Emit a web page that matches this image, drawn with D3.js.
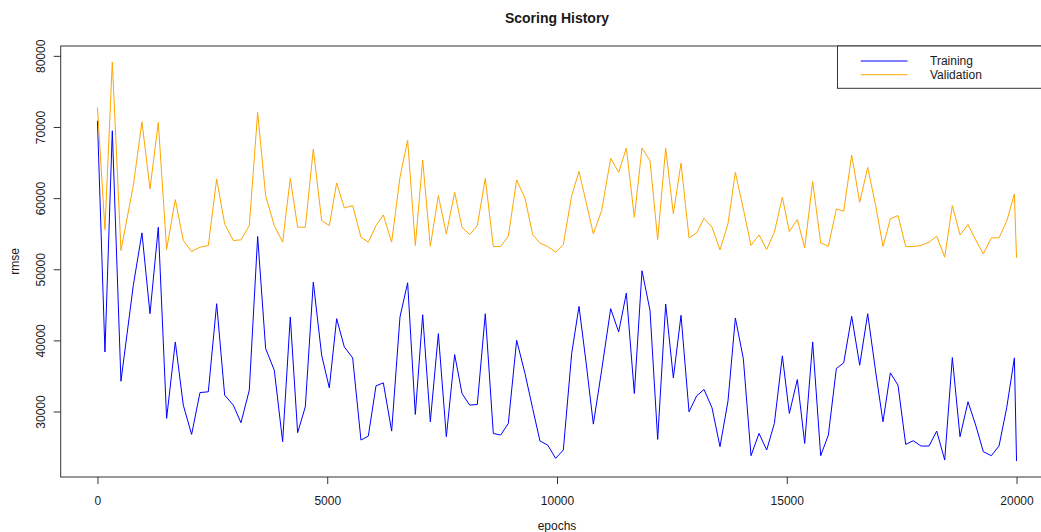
<!DOCTYPE html>
<html>
<head>
<meta charset="utf-8">
<script src="https://cdn.jsdelivr.net/npm/d3@7/dist/d3.min.js"></script>
<style>
  html, body { margin: 0; padding: 0; background: #fff; }
  svg { display: block; font-family: "Liberation Sans", Arial, sans-serif; }
</style>
</head>
<body>
<svg id="chart" width="1041" height="532"></svg>
<script>
// Scoring history of a training run: rmse per epoch for the training and validation frames.
const epochs = [
  0, 163, 323, 511, 780, 968, 1143, 1324, 1505, 1694, 1868, 2049, 2231, 2412, 2594, 2768,
  2956, 3123, 3304, 3486, 3660, 3848, 4030, 4196, 4356, 4523, 4697, 4879, 5045, 5205, 5372, 5553, 5734,
  5894, 6061, 6221, 6402, 6583, 6750, 6917, 7077, 7243, 7418, 7592, 7773, 7933, 8100, 8266, 8440, 8614,
  8774, 8941, 9122, 9304, 9470, 9630, 9797, 9971, 10138, 10319, 10479, 10631, 10791, 10972, 11168, 11342, 11509, 11683,
  11850, 12024, 12191, 12365, 12532, 12699, 12873, 13040, 13199, 13373, 13547, 13721, 13881, 14055, 14222, 14396, 14563,
  14730, 14904, 15056, 15230, 15390, 15564, 15738, 15905, 16079, 16239, 16413, 16587, 16761, 16935, 17094, 17254, 17421,
  17588, 17754, 17921, 18096, 18263, 18437, 18603, 18770, 18944, 19111, 19278, 19452, 19619, 19786, 19953, 20000
];

const trainingRmse = [
  70870, 38380, 69470, 34260, 47730, 55110, 43750, 55910, 29030, 39780, 30900, 26780, 32670, 32770, 45160, 32300,
  30900, 28420, 33000, 54600, 38850, 35810, 25760, 43290, 27020, 30660, 48200, 37910, 33330, 43050, 39080, 37540, 25990,
  26550, 33610, 34030, 27250, 43290, 48100, 29590, 43610, 28560, 40950, 26460, 38000, 32530, 30900, 30990, 43750, 26920,
  26690, 28330, 40010, 35340, 30430, 25850, 25290, 23420, 24590, 38140, 44780, 36980, 28230, 35810, 44460, 41180, 46650, 32530,
  49790, 44220, 26080, 45110, 34730, 43520, 29960, 32210, 33100, 30530, 25060, 31460, 43150, 37440, 23790, 26920, 24590,
  28330, 37820, 29730, 34500, 25520, 39780, 23790, 26690, 36040, 36840, 43380, 36510, 43750, 35570, 28560, 35430, 33700,
  25380, 25900, 25150, 25150, 27250, 23180, 37580, 26460, 31370, 28090, 24350, 23790, 25150, 30530, 37540, 23040
];

const validationRmse = [
  72740, 55580, 79140, 52640, 61750, 70730, 61290, 70640, 52780, 59790, 54040, 52500, 53100, 53340, 62690, 56380,
  54040, 54130, 56140, 72040, 60350, 56140, 53810, 62780, 55910, 55910, 66900, 56840, 56140, 62130, 58620, 58950, 54510,
  53810, 56140, 57640, 53810, 62920, 68160, 53340, 65350, 53240, 60350, 54970, 60820, 55910, 54880, 56140, 62780, 53200,
  53200, 54650, 62550, 59980, 54880, 53670, 53200, 52400, 53480, 60350, 63760, 59510, 54970, 58250, 65590, 63620, 67040, 57310,
  67040, 65260, 54180, 67040, 57780, 64930, 54410, 55110, 57170, 55910, 52730, 56380, 63620, 58480, 53340, 54830, 52780,
  55210, 60120, 55300, 56990, 53010, 62310, 53710, 53240, 58480, 58150, 66050, 59420, 64320, 58950, 53200, 57080, 57550,
  53200, 53200, 53340, 53810, 54650, 51700, 58950, 54830, 56280, 54130, 52170, 54410, 54410, 56750, 60580, 51610
];

const xTicks = [0, 5000, 10000, 15000, 20000];
const yTicks = [30000, 40000, 50000, 60000, 70000, 80000];
const seriesNames = ["Training", "Validation"];
const seriesColors = ["#0000ff", "#ffa500"];

const svg = d3.select("#chart");
const box = { left: 60.7, right: 1053.3, top: 46, bottom: 477 };
const ink = "#1a1a1a";

// Axis limits padded by 4% on each side, the way base graphics do it.
function padded(lo, hi) {
  const d = (hi - lo) * 0.04;
  return [lo - d, hi + d];
}
const allValues = trainingRmse.concat(validationRmse);
const x = d3.scaleLinear()
  .domain(padded(d3.min(epochs), d3.max(epochs)))
  .range([box.left, box.right]);
const y = d3.scaleLinear()
  .domain(padded(d3.min(allValues), d3.max(allValues)))
  .range([box.bottom, box.top]);

// Series lines
const line = d3.line()
  .x((d, i) => x(epochs[i]))
  .y(d => y(d));

[trainingRmse, validationRmse].forEach((vals, k) => {
  svg.append("path")
    .datum(vals)
    .attr("fill", "none")
    .attr("stroke", seriesColors[k])
    .attr("stroke-width", 1)
    .attr("stroke-linejoin", "round")
    .attr("d", line);
});

// Plot frame
svg.append("rect")
  .attr("x", box.left)
  .attr("y", box.top)
  .attr("width", box.right - box.left)
  .attr("height", box.bottom - box.top)
  .attr("fill", "none")
  .attr("stroke", "#333")
  .attr("stroke-width", 1);

// x axis
const xAxis = d3.axisBottom(x)
  .tickValues(xTicks)
  .tickSize(7)
  .tickPadding(12)
  .tickFormat(d3.format("d"));
const gx = svg.append("g")
  .attr("transform", `translate(0,${box.bottom})`)
  .call(xAxis);
gx.select(".domain").remove();
gx.selectAll(".tick line").attr("stroke", "#333");
gx.selectAll(".tick text")
  .attr("fill", ink)
  .attr("font-size", 12)
  .attr("font-family", "Liberation Sans, Arial, sans-serif");

// y axis with labels turned parallel to the axis
const yAxis = d3.axisLeft(y)
  .tickValues(yTicks)
  .tickSize(7)
  .tickFormat(d3.format("d"));
const gy = svg.append("g")
  .attr("transform", `translate(${box.left},0)`)
  .call(yAxis);
gy.select(".domain").remove();
gy.selectAll(".tick line").attr("stroke", "#333");
gy.selectAll(".tick text")
  .attr("fill", ink)
  .attr("font-size", 12)
  .attr("font-family", "Liberation Sans, Arial, sans-serif")
  .attr("x", null)
  .attr("dy", null)
  .attr("text-anchor", "middle")
  .attr("transform", `translate(${45 - box.left},0) rotate(-90)`);

// Title and axis titles
svg.append("text")
  .attr("x", (box.left + box.right) / 2)
  .attr("y", 23)
  .attr("text-anchor", "middle")
  .attr("font-size", 14)
  .attr("font-weight", "bold")
  .attr("fill", ink)
  .text("Scoring History");

svg.append("text")
  .attr("x", (box.left + box.right) / 2)
  .attr("y", 530)
  .attr("text-anchor", "middle")
  .attr("font-size", 12)
  .attr("fill", ink)
  .text("epochs");

svg.append("text")
  .attr("transform", `translate(18.5,${(box.top + box.bottom) / 2}) rotate(-90)`)
  .attr("text-anchor", "middle")
  .attr("font-size", 12)
  .attr("fill", ink)
  .text("rmse");

// Legend in the top-right corner
const legend = svg.append("g");
legend.append("rect")
  .attr("x", 837.5)
  .attr("y", box.top)
  .attr("width", box.right - 837.5)
  .attr("height", 42.3)
  .attr("fill", "#fff")
  .attr("stroke", "#333")
  .attr("stroke-width", 1);
seriesNames.forEach((name, k) => {
  const ly = 61 + k * 13.7;
  legend.append("line")
    .attr("x1", 860.7).attr("x2", 907.5)
    .attr("y1", ly).attr("y2", ly)
    .attr("stroke", seriesColors[k])
    .attr("stroke-width", 1);
  legend.append("text")
    .attr("x", 930)
    .attr("y", ly + 4.4)
    .attr("font-size", 12)
    .attr("fill", ink)
    .text(name);
});
</script>
</body>
</html>
